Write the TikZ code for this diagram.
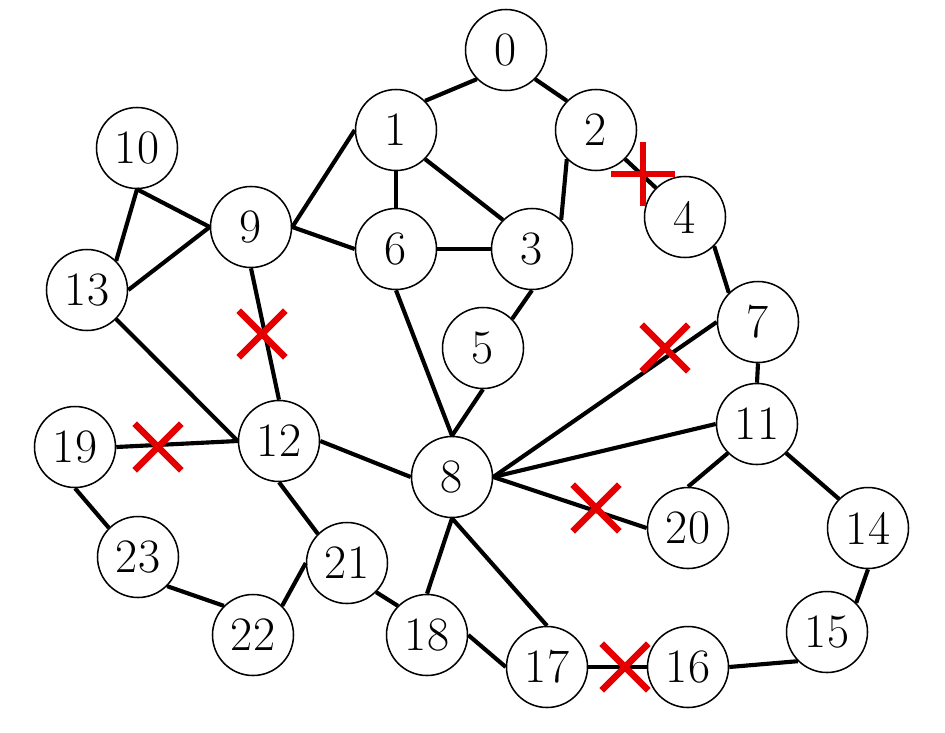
\documentclass[tikz,border=0pt]{standalone}
\usetikzlibrary{shapes.misc}
\definecolor{cutred}{RGB}{228,0,0}
\begin{document}
\begin{tikzpicture}[x=0.75pt,y=-0.75pt,
  vertex/.style={circle,draw,line width=1.15pt,minimum size=60.75pt,inner sep=0pt,
    font=\fontsize{36}{40}\selectfont},
  edge/.style={line width=3.1pt},
  cutx/.style={cross out,draw=cutred,line width=4.9pt,minimum size=30pt,inner sep=0pt},
  cutplus/.style={cross out,draw=cutred,line width=4.9pt,minimum size=29pt,inner sep=0pt,rotate=45}]
\useasboundingbox (0,0) rectangle (945,732);
\node[vertex] (n0) at (506,50) {0};
\node[vertex] (n1) at (396,130) {1};
\node[vertex] (n2) at (596,130) {2};
\node[vertex] (n3) at (532,249) {3};
\node[vertex] (n4) at (685,217) {4};
\node[vertex] (n5) at (483,348) {5};
\node[vertex] (n6) at (396,249) {6};
\node[vertex] (n7) at (758,322) {7};
\node[vertex] (n8) at (452,477) {8};
\node[vertex] (n9) at (251,227) {9};
\node[vertex] (n10) at (137,148) {10};
\node[vertex] (n11) at (757,424) {11};
\node[vertex] (n12) at (279,441) {12};
\node[vertex] (n13) at (87,290) {13};
\node[vertex] (n14) at (868,528) {14};
\node[vertex] (n15) at (827,632) {15};
\node[vertex] (n16) at (688,667) {16};
\node[vertex] (n17) at (547,667) {17};
\node[vertex] (n18) at (427,635) {18};
\node[vertex] (n19) at (75,447) {19};
\node[vertex] (n20) at (688,528) {20};
\node[vertex] (n21) at (347,563) {21};
\node[vertex] (n22) at (253,635) {22};
\node[vertex] (n23) at (138,557) {23};
\draw[edge] (n0.south west) -- (n1.north east);
\draw[edge] (n0.south east) -- (n2.north west);
\draw[edge] (n1.west) -- (n9.east);
\draw[edge] (n1.south) -- (n6.north);
\draw[edge] (n1.south east) -- (n3.north west);
\draw[edge] (n2.south west) -- (n3.north east);
\draw[edge] (n2.south east) -- (n4.north west);
\draw[edge] (n6.west) -- (n9.east);
\draw[edge] (n6.east) -- (n3.west);
\draw[edge] (n3.south) -- (n5.north east);
\draw[edge] (n5.south) -- (n8.north);
\draw[edge] (n6.south) -- (n8.north);
\draw[edge] (n4.south east) -- (n7.north west);
\draw[edge] (n7.south) -- (n11.north);
\draw[edge] (n7.west) -- (n8.east);
\draw[edge] (n11.west) -- (n8.east);
\draw[edge] (n8.east) -- (n20.west);
\draw[edge] (n11.south west) -- (n20.north);
\draw[edge] (n11.south east) -- (n14.north west);
\draw[edge] (n14.south) -- (n15.north east);
\draw[edge] (n15.south west) -- (n16.east);
\draw[edge] (n16.west) -- (n17.east);
\draw[edge] (n8.south) -- (n17.north);
\draw[edge] (n8.south) -- (n18.north);
\draw[edge] (n18.east) -- (n17.west);
\draw[edge] (n21.south east) -- (n18.north west);
\draw[edge] (n12.south) -- (n21.north west);
\draw[edge] (n22.north east) -- (n21.west);
\draw[edge] (n23.south east) -- (n22.north west);
\draw[edge] (n19.south) -- (n23.north west);
\draw[edge] (n19.east) -- (n12.west);
\draw[edge] (n13.south east) -- (n12.west);
\draw[edge] (n9.south) -- (n12.north);
\draw[edge] (n10.south) -- (n9.west);
\draw[edge] (n10.south) -- (n13.north east);
\draw[edge] (n13.east) -- (n9.west);
\draw[edge] (n12.east) -- (n8.west);
\node[cutplus] (c24) at (643,174) {};
\node[cutx] (c912) at (262,334) {};
\node[cutx] (c1912) at (158,447) {};
\node[cutx] (c78) at (665,348) {};
\node[cutx] (c820) at (596,508) {};
\node[cutx] (c1716) at (625,667) {};
\end{tikzpicture}
\end{document}
